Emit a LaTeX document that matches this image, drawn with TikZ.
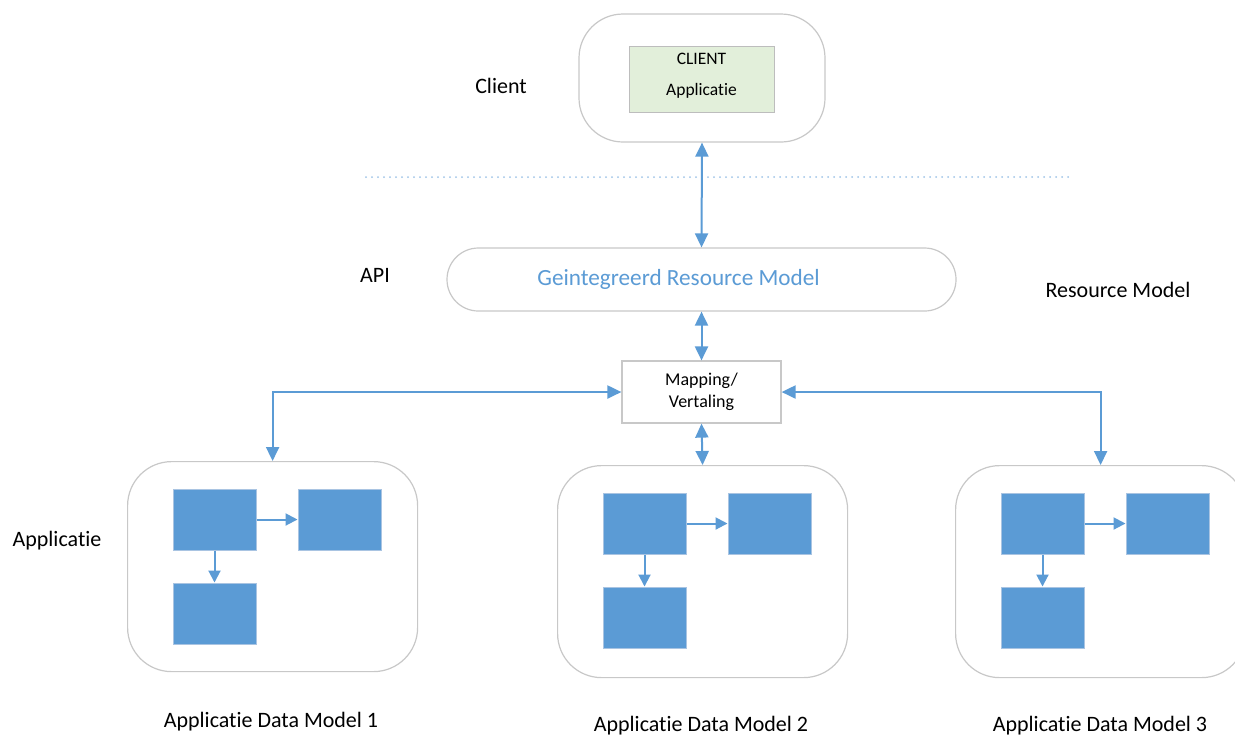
\documentclass[tikz,border=0pt]{standalone}
\usepackage{fontspec}
\setmainfont{Carlito}[Ligatures=NoCommon]
\usetikzlibrary{arrows.meta}
\definecolor{flow}{HTML}{5B9BD5}
\definecolor{frame}{HTML}{C8C8C8}
\definecolor{leaf}{HTML}{E2EFDA}
\definecolor{leafline}{HTML}{BDBDBD}
\definecolor{dots}{HTML}{9DC3E6}
\definecolor{cellline}{HTML}{A9C4E2}
\begin{document}
\begin{tikzpicture}[x=0.5pt,y=-0.5pt,
  lane/.style={draw=frame, line width=0.6pt, fill=white, inner sep=0pt,
    rounded corners=22pt, minimum width=145pt, minimum height=106pt},
  cell/.style={draw=cellline, line width=0.5pt, fill=flow, inner sep=0pt,
    minimum width=41.5pt, minimum height=30.5pt},
  label/.style={font=\fontsize{11}{13}\selectfont, inner sep=0pt},
  biarrow/.style={draw=flow, line width=1pt,
    {Triangle[length=7pt,width=6.5pt]}-{Triangle[length=7pt,width=6.5pt]}},
  onearrow/.style={draw=flow, line width=1pt, -{Triangle[length=6pt,width=6pt]}}]
\useasboundingbox (0,0) rectangle (1235,736);

% client tier
\node[lane, minimum width=123pt, minimum height=64pt] (client) at (702,78) {};
\node[draw=leafline, line width=0.5pt, fill=leaf, inner sep=0pt,
  minimum width=72.5pt, minimum height=33pt] (clientapp) at (701.5,79) {};
\node[align=center, inner sep=0pt, font=\fontsize{8.75}{15.5}\selectfont]
  (clienttext) at (701.5,76) {CLIENT\\Applicatie};

% separator between client and API
\coordinate (sepL) at (366,177);
\coordinate (sepR) at (1073,177);
\draw[dots, line width=1pt, line cap=round, dash pattern=on 0pt off 3pt] (sepL) -- (sepR);

% API tier
\node[draw=frame, line width=0.6pt, fill=white, inner sep=0pt, rounded corners=15.7pt,
  minimum width=254.5pt, minimum height=31.5pt] (rm) at (701.5,279.5) {};
\node[text=flow, inner sep=0pt, font=\fontsize{11.6}{13}\selectfont]
  (rmtext) at (678.5,279) {Geintegreerd Resource Model};
\node[draw=frame, line width=0.6pt, fill=white, inner sep=0pt, align=center,
  minimum width=79.5pt, minimum height=31pt,
  font=\fontsize{9}{11}\selectfont] (map) at (701.5,392) {Mapping/\\Vertaling};

% application data models
\foreach \n/\x/\y in {1/127/461, 2/557/465, 3/955/465} {
  \node[lane, anchor=north west, minimum height={\n==1 ? 105pt : 106pt}] (b\n) at (\x,\y) {};
  \node[cell] (b\n a) at (\x+87.5,\y+58.5) {};
  \node[cell] (b\n b) at (\x+212.5,\y+58.5) {};
  \node[cell] (b\n c) at (\x+87.5,\y+152.5) {};
  \draw[onearrow] (b\n a.east) -- (b\n b.west);
  \draw[onearrow] (b\n a.south) -- (b\n c.north);
}

% connectors
\draw[biarrow] (client.south) -- (rm.north);
\draw[biarrow] (rm.south) -- (map.north);
\draw[biarrow] (map.south) -- (b2.north);
\draw[biarrow] (map.west) -| (b1.north);
\draw[biarrow] (map.east) -| (b3.north);

% tier captions
\node[label] (tclient) at (501,86) {Client};
\node[label] (tapi) at (375,275) {API};
\node[label] (tres) at (1118,290) {Resource Model};
\node[label] (tapp) at (57,541) {Applicatie};
\node[label] (m1) at (271,722) {Applicatie Data Model 1};
\node[label] (m2) at (701,726) {Applicatie Data Model 2};
\node[label] (m3) at (1100,726) {Applicatie Data Model 3};
\end{tikzpicture}
\end{document}
